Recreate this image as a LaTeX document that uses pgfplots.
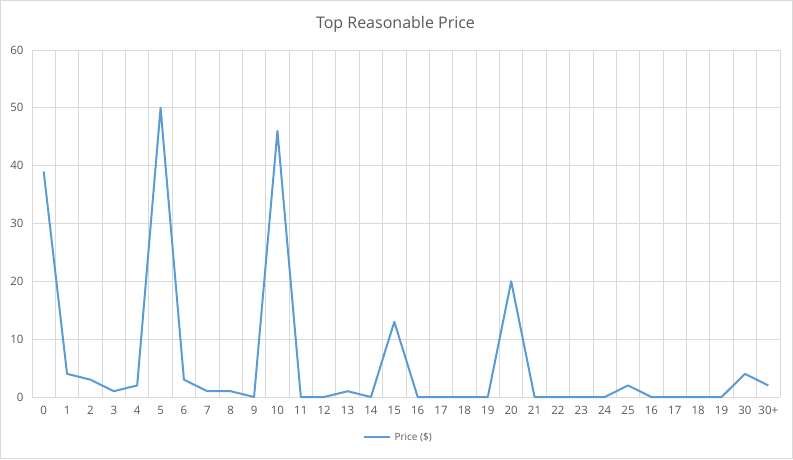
\documentclass[border=0pt]{standalone}
\usepackage{pgfplots}
\pgfplotsset{compat=1.18}
\usepackage{fontspec}
\setmainfont{Open Sans}
\definecolor{txt}{HTML}{595959}
\definecolor{grd}{HTML}{D9D9D9}
\definecolor{ln}{HTML}{5B9BD5}
\begin{document}
\begin{tikzpicture}[x=1pt,y=1pt]
\draw[draw=grd, fill=white, line width=1pt] (-31.5,-61.5) rectangle (760.5,396.5);
\begin{axis}[
  at={(0,0)}, anchor=south west,
  scale only axis, width=748pt, height=347pt,
  xmin=-0.5, xmax=31.5, ymin=0, ymax=60,
  xtick={0,...,31},
  xticklabels={0,1,2,3,4,5,6,7,8,9,10,11,12,13,14,15,16,17,18,19,20,21,22,23,24,25,16,17,18,19,30,30+},
  minor xtick={-0.5,0.5,...,31.5},
  ytick={0,10,...,60},
  xmajorgrids=false, xminorgrids=true, ymajorgrids=true,
  grid style={draw=grd, line width=0.8pt},
  minor grid style={draw=grd, line width=0.8pt},
  axis line style={draw=none},
  axis x line*=bottom,
  x axis line style={draw=grd, line width=0.8pt},
  axis y line*=left,
  y axis line style={draw=none},
  major tick length=0pt, minor tick length=0pt,
  tick style={draw=none},
  ticklabel style={font=\fontsize{11.5}{13}\selectfont, text=txt},
  /pgf/number format/assume math mode=true,
  xticklabel style={yshift=-6pt},
  yticklabel style={xshift=-5pt},
  clip=false,
]
\addplot[ln, line width=2pt, line join=round] coordinates {
(0,39)(1,4)(2,3)(3,1)(4,2)(5,50)(6,3)(7,1)(8,1)(9,0)(10,46)(11,0)(12,0)(13,1)(14,0)(15,13)(16,0)(17,0)(18,0)(19,0)(20,20)(21,0)(22,0)(23,0)(24,0)(25,2)(26,0)(27,0)(28,0)(29,0)(30,4)(31,2)
};
\end{axis}
\node[text=txt, font=\fontsize{16}{19}\selectfont] at (363.5,373) {Top Reasonable Price};
\draw[ln, line width=2pt] (332,-40) -- (358,-40);
\node[text=txt, font=\fontsize{10}{12}\selectfont, anchor=west] at (359,-40) {Price (\$)};
\end{tikzpicture}
\end{document}
